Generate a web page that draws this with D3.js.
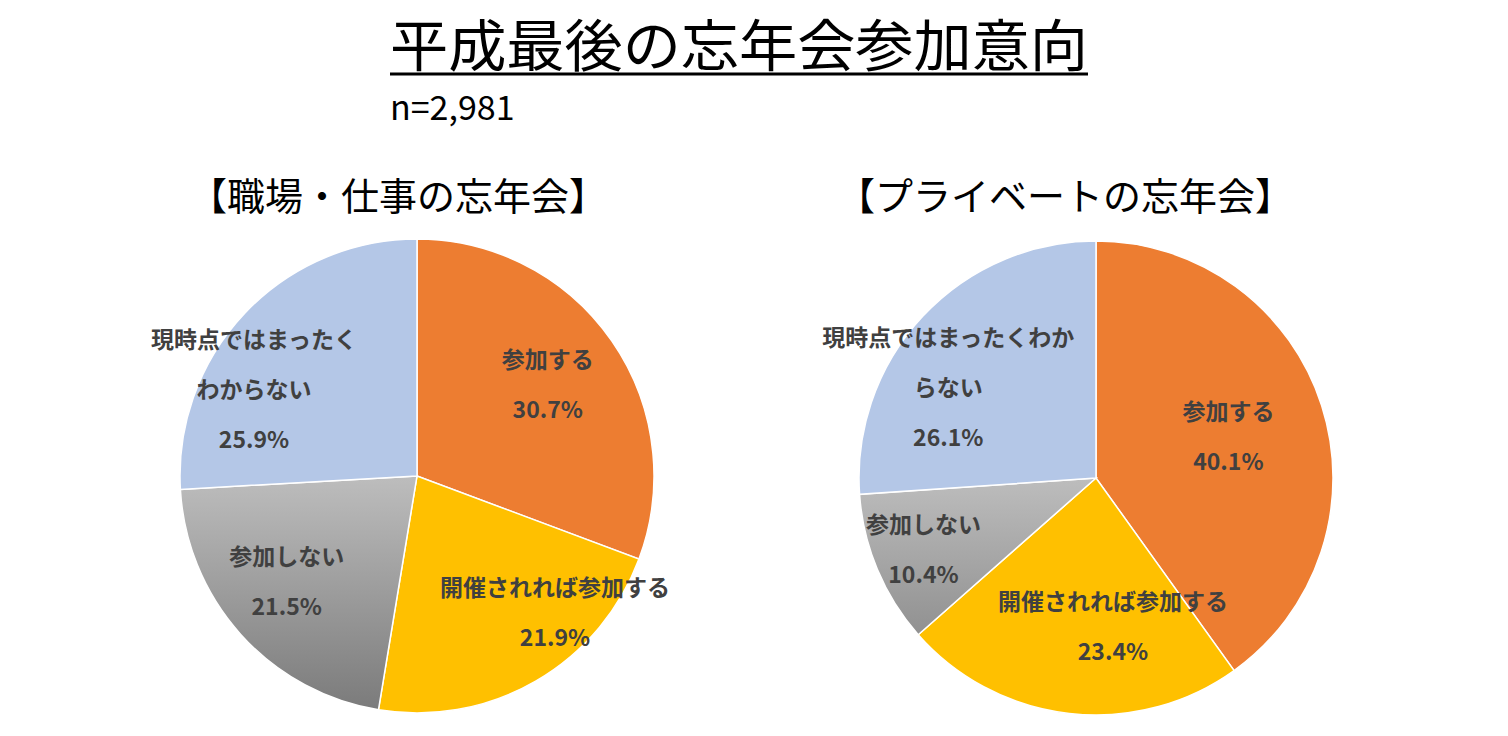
<!DOCTYPE html>
<html><head><meta charset="utf-8">
<script src="https://cdn.jsdelivr.net/npm/d3@7"></script>
<style>body{margin:0;background:#fff}</style></head>
<body><svg id="c" width="1508" height="736"></svg>
<script>
const categories = ["参加する","開催されれば参加する","参加しない","現時点ではまったくわからない"];
const workValues = [30.7,21.9,21.5,25.9];
const privateValues = [40.1,23.4,10.4,26.1];
const workLabels = [["参加する"],["開催されれば参加する"],["参加しない"],["現時点ではまったく","わからない"]];
const privateLabels = [["参加する"],["開催されれば参加する"],["参加しない"],["現時点ではまったくわか","らない"]];
const colors = ["#ED7D31","#FFC000","url(#gray)","#B4C7E7"];
const font = "'Noto Sans CJK JP', sans-serif";
const svg = d3.select("#c");
const g = svg.append("defs").append("linearGradient").attr("id","gray")
  .attr("gradientUnits","userSpaceOnUse").attr("x1",0).attr("x2",0).attr("y1",0).attr("y2",237);
g.append("stop").attr("offset",0).attr("stop-color","#BDBDBD");
g.append("stop").attr("offset",1).attr("stop-color","#7A7A7A");

svg.append("text").attr("x",390).attr("y",66).attr("font-family",font).attr("font-size",56)
  .attr("textLength",698).attr("lengthAdjust","spacingAndGlyphs")
  .attr("fill","#000").text("平成最後の忘年会参加意向");
svg.append("line").attr("x1",390).attr("x2",1088).attr("y1",74).attr("y2",74).attr("stroke","#000").attr("stroke-width",3);
svg.append("text").attr("x",390).attr("y",120).attr("font-family",font).attr("font-size",34).text("n=2,981");

function pie(cx, cy, r, values, labels, title, tx, factors, nudges){
  svg.append("text").attr("x",tx).attr("y",210).attr("text-anchor","middle").attr("font-family",font)
    .attr("font-size",38).text(title);
  const arcs = d3.pie().sort(null)(values);
  const arc = d3.arc().innerRadius(0).outerRadius(r);
  const gg = svg.append("g").attr("transform",`translate(${cx},${cy})`);
  gg.selectAll("path").data(arcs).join("path").attr("d",arc)
    .attr("fill",(d,i)=>colors[i]).attr("stroke","#fff").attr("stroke-width",1.5);
  arcs.forEach((d,i)=>{
    const la = d3.arc().innerRadius(r*factors[i]).outerRadius(r*factors[i]);
    let [x,y] = la.centroid(d);
    x += nudges[i][0]; y += nudges[i][1];
    const lines = labels[i].concat([values[i].toFixed(1)+"%"]);
    const t = gg.append("text").attr("text-anchor","middle").attr("font-family",font)
      .attr("font-weight","bold").attr("font-size",23).attr("fill","#404040");
    lines.forEach((s,k)=>t.append("tspan").attr("x",x).attr("y",y+(k-(lines.length-1)/2)*50+8).text(s));
  });
}
pie(417,476,237,workValues,workLabels,"【職場・仕事の忘年会】",398,[0.62,0.75,0.62,0.72],[[10,-7],[49,-17],[-21,8],[-39,31]]);
pie(1096,478,237,privateValues,privateLabels,"【プライベートの忘年会】",1065,[0.6,0.75,0.78,0.72],[[-3,3],[37,-28],[-2,1],[-23,26]]);
</script></body></html>
